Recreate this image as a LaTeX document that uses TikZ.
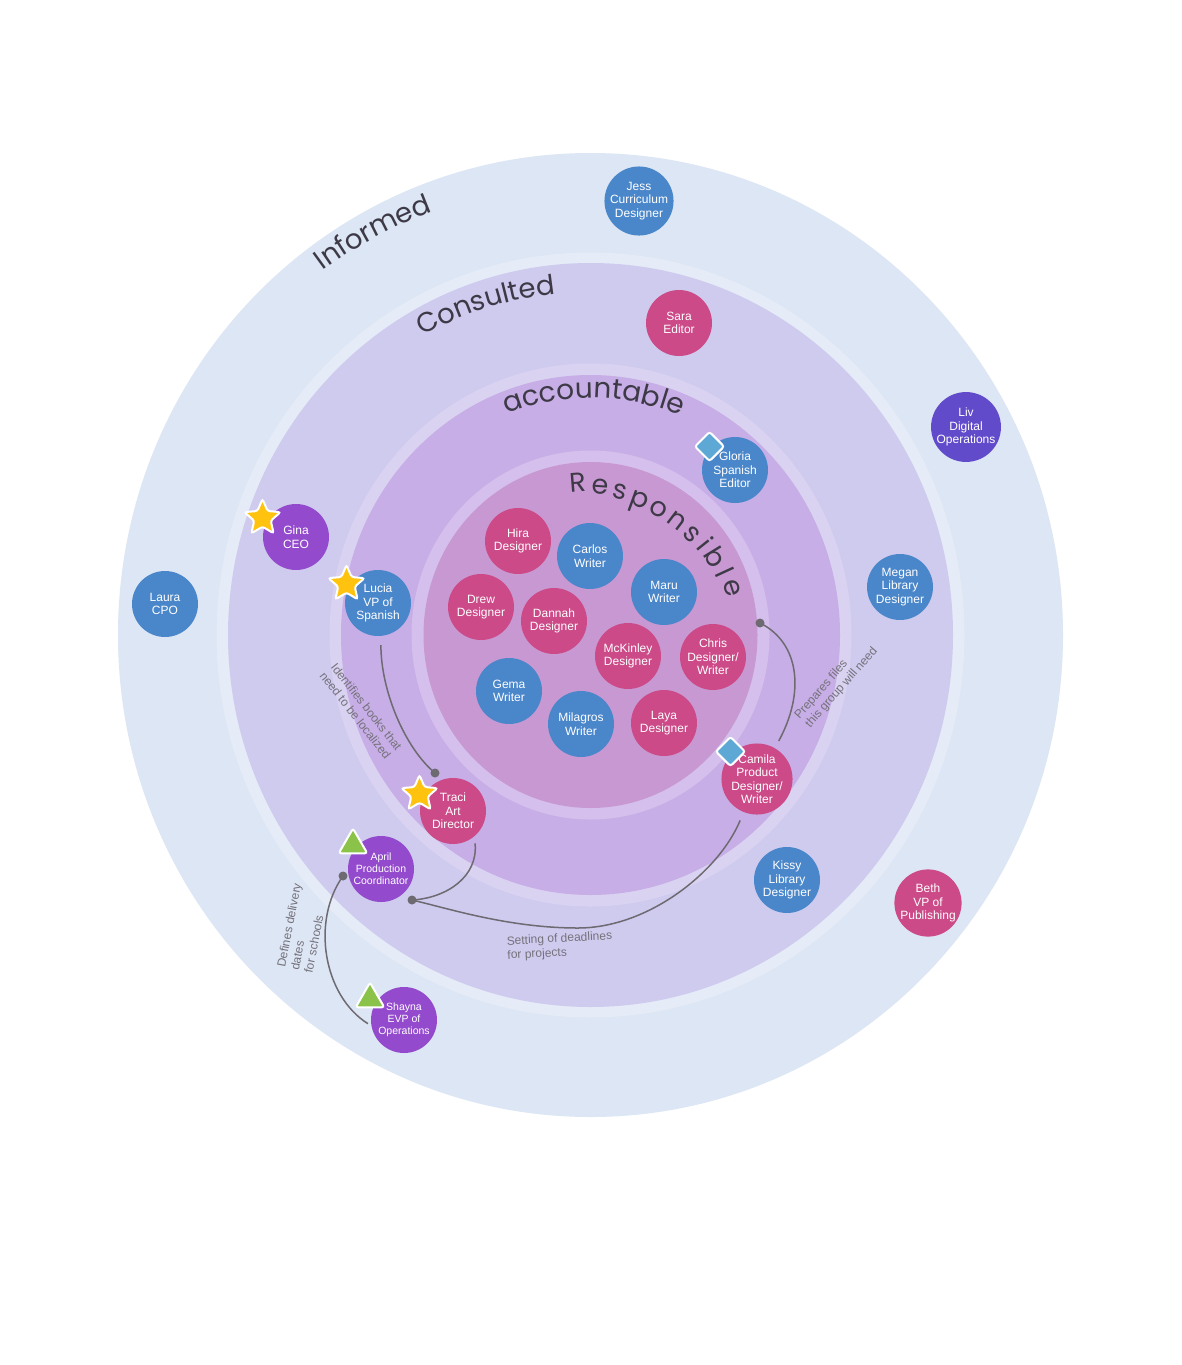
\documentclass[tikz,border=0pt]{standalone}
\usepackage{fontspec}
\setmainfont{Liberation Sans}
\newfontfamily\ringfont{Poppins}
\usetikzlibrary{shapes.geometric,decorations.text}
\definecolor{informed}{HTML}{DCE6F4}
\definecolor{gapA}{HTML}{E5EBF7}
\definecolor{consulted}{HTML}{CFCBEE}
\definecolor{gapB}{HTML}{D9D3F1}
\definecolor{accountable}{HTML}{C7AEE6}
\definecolor{gapC}{HTML}{D5BFEC}
\definecolor{responsible}{HTML}{C898D2}
\definecolor{pblue}{HTML}{4A86CA}
\definecolor{ppink}{HTML}{CB4A87}
\definecolor{ppurple}{HTML}{934ACC}
\definecolor{pindigo}{HTML}{624BCB}
\definecolor{staryellow}{HTML}{FFC20E}
\definecolor{trigreen}{HTML}{8BC34A}
\definecolor{diablue}{HTML}{5DA8D4}
\definecolor{conncol}{HTML}{6E6A72}
\definecolor{labelgray}{HTML}{75717B}
\definecolor{ringtext}{HTML}{3D3946}
\begin{document}
\begin{tikzpicture}[x=1pt,y=-1pt,
  person/.style={circle, minimum size=66pt, inner sep=0pt, text=white, align=center,
    font=\fontsize{12}{13.5}\selectfont},
  small/.style={font=\fontsize{10.5}{12}\selectfont},
  staricon/.style={star, star points=5, star point ratio=2.2, minimum size=38pt, inner sep=0pt,
    fill=staryellow, draw=white, line width=2pt, rounded corners=2.5pt},
  triicon/.style={regular polygon, regular polygon sides=3, minimum size=33pt, inner sep=0pt,
    fill=trigreen, draw=white, line width=2pt, rounded corners=2.5pt},
  diaicon/.style={diamond, minimum width=30pt, minimum height=30pt, inner sep=0pt,
    fill=diablue, draw=white, line width=2pt, rounded corners=2.5pt},
  dotc/.style={circle, fill=conncol, minimum size=9pt, inner sep=0pt},
  conn/.style={draw=conncol, line width=1.5pt},
  lbl/.style={text=labelgray, font=\fontsize{12}{14}\selectfont, align=left, inner sep=0pt, anchor=west},
  rtext/.style={text=ringtext, font=\ringfont\fontsize{27}{27}\selectfont, inner sep=0pt, anchor=base}
]
\useasboundingbox (0,0) rectangle (1182,1365);
\fill[white] (0,0) rectangle (1182,1365);
\coordinate (c) at (590.5,635);
% rings
\fill[informed] (c) ellipse[x radius=472.5, y radius=482];
\fill[gapA] (c) ellipse[x radius=374, y radius=382.5];
\fill[consulted] (c) ellipse[x radius=362.5, y radius=372];
\fill[gapB] (c) ellipse[x radius=261, y radius=271.5];
\fill[accountable] (c) ellipse[x radius=249.5, y radius=260];
\fill[gapC] (c) ellipse[x radius=179, y radius=184.5];
\fill[responsible] (c) ellipse[x radius=167, y radius=173];

% ring labels
\path[decorate, decoration={text along path, text align=center,
  text={|\ringfont\fontsize{27.5}{27.5}\selectfont\color{ringtext}|Informed}}]
  ([shift={(-148.4:452)}]c) arc[start angle=-148.4, end angle=-88.4, radius=452];
\path[decorate, decoration={text along path, text align=center,
  text={|\ringfont\fontsize{27.5}{27.5}\selectfont\color{ringtext}|Consulted}}]
  ([shift={(-137.6:343)}]c) arc[start angle=-137.6, end angle=-77.6, radius=343];
\path[decorate, decoration={text along path, text align=center,
  text={|\ringfont\fontsize{28}{28}\selectfont\color{ringtext}|accountable}}]
  ([shift={(-119.2:237)}]c) arc[start angle=-119.2, end angle=-59.2, radius=237];
\foreach \ch/\ang/\rad [count=\i] in {R/94.6/144, e/85.96/141, s/78.12/139, p/69.97/137,
    o/61.29/136, n/52.71/136, s/44.67/136, i/38.53/137, b/31.65/138, l/24.77/139, e/18.2/142}
  \node[rtext, rotate=\ang-90] (resp\i) at ({590+\rad*cos(\ang)},{635-\rad*sin(\ang)}) {\ch};

% people
\node[person, fill=pblue] (jess) at (639,201) {Jess\\Curriculum\\Designer};
\node[person, fill=ppink] (sara) at (679,323) {Sara\\Editor};
\node[person, fill=pindigo] (liv) at (966,427) {Liv\\Digital\\Operations};
\node[person, fill=pblue] (gloria) at (735,470) {Gloria\\Spanish\\Editor};
\node[person, fill=pblue] (megan) at (900,587) {Megan\\Library\\Designer};
\node[person, fill=pblue] (laura) at (165,604) {Laura\\CPO};
\node[person, fill=ppurple] (gina) at (296,537) {Gina\\CEO};
\node[person, fill=pblue] (lucia) at (378,603) {Lucia\\VP of\\Spanish};
\node[person, fill=ppink] (hira) at (518,541) {Hira\\Designer};
\node[person, fill=pblue] (carlos) at (590,556) {Carlos\\Writer};
\node[person, fill=pblue] (maru) at (664,592) {Maru\\Writer};
\node[person, fill=ppink] (drew) at (481,607) {Drew\\Designer};
\node[person, fill=ppink] (dannah) at (554,621) {Dannah\\Designer};
\node[person, fill=ppink] (mckinley) at (628,656) {McKinley\\Designer};
\node[person, fill=ppink] (chris) at (713,657) {Chris\\Designer/\\Writer};
\node[person, fill=pblue] (gema) at (509,691) {Gema\\Writer};
\node[person, fill=pblue] (milagros) at (581,724) {Milagros\\Writer};
\node[person, fill=ppink] (laya) at (664,723) {Laya\\Designer};
\node[person, fill=ppink] (camila) at (757,779) {Camila\\Product\\Designer/\\Writer};
\node[person, fill=ppink] (traci) at (453,811) {Traci\\Art\\Director};
\node[person, small, fill=ppurple] (april) at (381,869) {April\\Production\\Coordinator};
\node[person, fill=pblue] (kissy) at (787,880) {Kissy\\Library\\Designer};
\node[person, fill=ppink] (beth) at (928,903) {Beth\\VP of\\Publishing};
\node[person, small, fill=ppurple] (shayna) at (404,1020) {Shayna\\EVP of\\Operations};

% icons
\node[staricon] (ginastar) at (262.5,518) {};
\node[staricon] (luciastar) at (346.5,584) {};
\node[staricon] (tracistar) at (419.5,794) {};
\node[triicon] (apriltri) at (353,845) {};
\node[triicon] (shaynatri) at (370,999) {};
\node[diaicon] (gloriadia) at (709.5,446.5) {};
\node[diaicon] (camiladia) at (730.5,751.5) {};

% connectors
\node[dotc] (d1) at (435,773) {};
\node[dotc] (d2) at (412,900) {};
\node[dotc] (d3) at (343,876) {};
\node[dotc] (d4) at (760,623) {};
\coordinate (cbot) at (578,928);

\draw[conn, shorten <=9pt] (lucia.-85) .. controls +(0,55) and +(-30,-25) .. (d1.center);
\draw[conn, shorten <=7pt] (traci.-50) .. controls +(4,40) and +(35,-2) .. (d2.center);
\draw[conn, shorten <=9pt] (camila.-112) .. controls +(-25,60) and +(70,0) .. (cbot)
  .. controls +(-70,0) and +(35,8) .. (d2.center);
\draw[conn, shorten <=4pt] (shayna.190) .. controls +(-48,-30) and +(-32,45) .. (d3.center);
\draw[conn, shorten <=8pt] (camila.60) .. controls +(30,-55) and +(40,20) .. (d4.center);

% connector labels
\node[lbl, rotate=-52] (lab1) at (328,669) {Identifies books that\\need to be localized};
\node[lbl, rotate=3] (lab2) at (507,949) {Setting of deadlines\\for projects};
\node[lbl, rotate=79] (lab3) at (294.5,970) {Defines delivery\\dates\\for schools};
\node[lbl, rotate=49] (lab4) at (802.5,722) {Prepares files\\this group will need};
\end{tikzpicture}
\end{document}
